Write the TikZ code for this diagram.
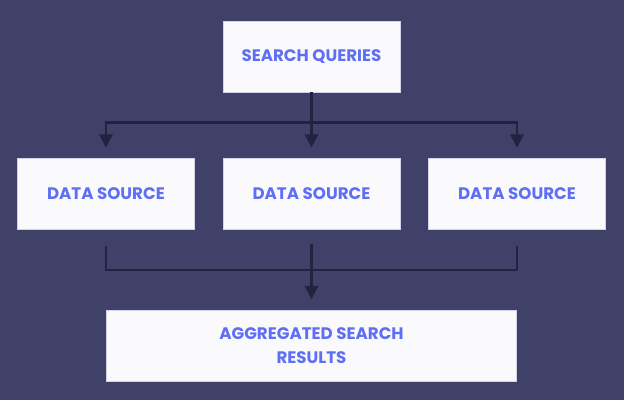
\documentclass[tikz,border=0pt]{standalone}
\usepackage{fontspec}
\setmainfont{Poppins}
\usepackage{xcolor}
\usetikzlibrary{arrows.meta,positioning}

\definecolor{bgnavy}{HTML}{404168}
\definecolor{linenavy}{HTML}{222340}
\definecolor{boxfill}{HTML}{FAFAFD}
\definecolor{boxedge}{HTML}{D2D3EA}
\definecolor{textblue}{HTML}{5E6FF5}

\begin{document}
\begin{tikzpicture}[
    node distance=49.5pt and 21pt,
    box/.style={rectangle, draw=boxedge, line width=0.4pt, fill=boxfill, minimum width=132.75pt, minimum height=53.25pt, align=center, text=textblue, font=\fontsize{12.5}{18}\selectfont\bfseries},
    line/.style={draw=linenavy, line width=2pt},
    arrow/.style={line, -{Triangle[width=10pt,length=10pt]}}
]

% Background and frame
\fill[bgnavy] (0,0) rectangle (468pt,-300pt);
\useasboundingbox (0,0) rectangle (468pt,-300pt);

% Nodes
\node[box] (query) at (233.6pt,-42.4pt) {SEARCH QUERIES};
\node[box, below=of query] (src2) {DATA SOURCE};
\node[box, left=of src2] (src1) {DATA SOURCE};
\node[box, right=of src2] (src3) {DATA SOURCE};
\node[box, below=60pt of src2, minimum width=307.5pt] (result) {AGGREGATED SEARCH\\RESULTS};

% Split to the sources
\coordinate[below=22.5pt of query.south] (split);
\draw[line] (query.south) -- (split);
\draw[arrow, shorten >=8pt] (split) -| (src1.north);
\draw[arrow, shorten >=8pt] (split) -- (src2.north);
\draw[arrow, shorten >=8pt] (split) -| (src3.north);

% Merge to the results
\coordinate[below=30pt of src2.south] (merge);
\draw[line, shorten <=12pt, shorten >=12pt] (src1.south) |- (merge) -| (src3.south);
\draw[arrow, shorten <=10.5pt, shorten >=8pt] (src2.south) -- (result.north);

\end{tikzpicture}
\end{document}
